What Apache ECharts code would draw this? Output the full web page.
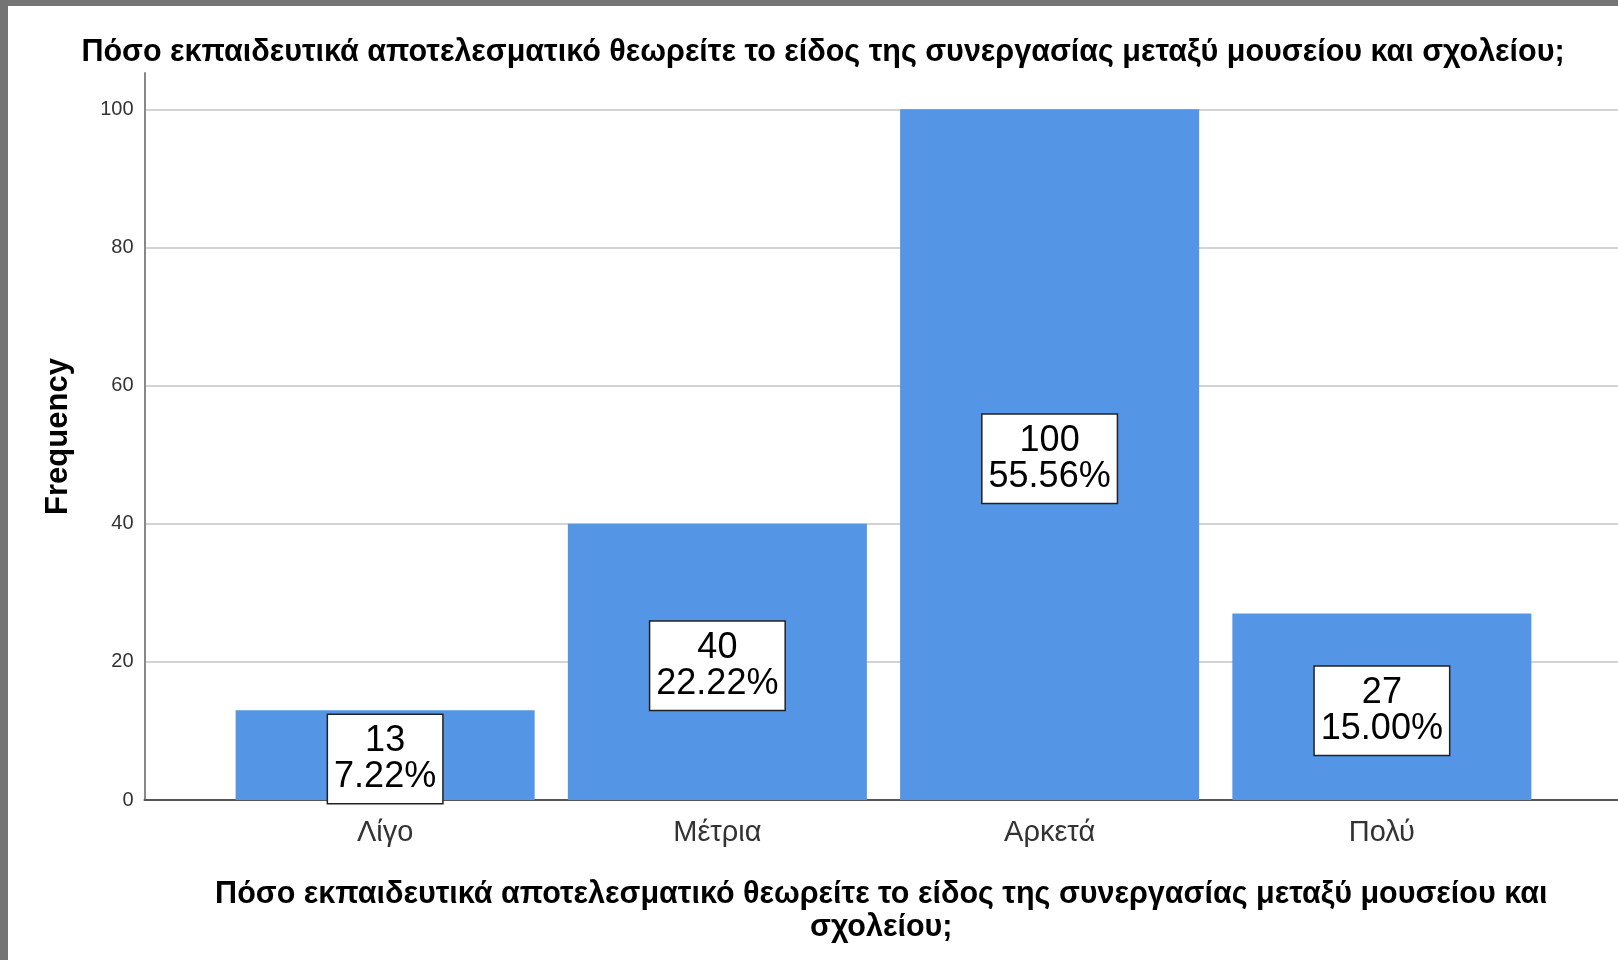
<!DOCTYPE html>
<html>
<head>
<meta charset="utf-8">
<script src="https://cdn.jsdelivr.net/npm/echarts@6/dist/echarts.min.js"></script>
<style>
    html, body { margin: 0; padding: 0; width: 1618px; height: 960px; background: #747474; overflow: hidden; }
    #chart { position: absolute; left: 8px; top: 6px; width: 1610px; height: 954px; background: #fff; }
</style>
</head>
<body>
<div id="chart"></div>
<script>
// data
const categories = ['Λίγο', 'Μέτρια', 'Αρκετά', 'Πολύ'];
const counts = [13, 40, 100, 27];
const percents = ['7.22%', '22.22%', '55.56%', '15.00%'];
const questionText = 'Πόσο εκπαιδευτικά αποτελεσματικό θεωρείτε το είδος της συνεργασίας μεταξύ μουσείου και σχολείου;';
const axisTitleLines = ['Πόσο εκπαιδευτικά αποτελεσματικό θεωρείτε το είδος της συνεργασίας μεταξύ μουσείου και', 'σχολείου;'];

const FONT = "'Liberation Sans', Arial, sans-serif";
const Y_MAX = 105.25;

const myChart = echarts.init(document.getElementById('chart'));

const option = {
    animation: false,
    textStyle: { fontFamily: FONT },
    title: {
        text: questionText,
        left: 810,
        top: 26,
        textAlign: 'center',
        textStyle: { fontFamily: FONT, fontSize: 30.5, fontWeight: 'bold', color: '#000' }
    },
    grid: [
        // background grid: full width gridlines and axes
        { left: 136.5, right: 0, top: 67, bottom: 160 },
        // bar grid: categories sit inside with padding like SPSS
        { left: 211, right: 70, top: 67, bottom: 160 }
    ],
    xAxis: [
        {
            gridIndex: 0,
            type: 'value',
            min: 0,
            max: 1,
            axisLine: { show: true, lineStyle: { color: '#555', width: 2 } },
            axisTick: { show: false },
            axisLabel: { show: false },
            splitLine: { show: false },
            name: axisTitleLines.join('\n'),
            nameLocation: 'middle',
            nameGap: 78,
            nameTextStyle: { fontFamily: FONT, fontSize: 30.5, fontWeight: 'bold', color: '#000', lineHeight: 33 }
        },
        {
            gridIndex: 1,
            type: 'category',
            data: categories,
            axisLine: { show: false },
            axisTick: { show: false },
            axisLabel: { fontSize: 29, color: '#333', margin: 18 }
        }
    ],
    yAxis: [
        {
            gridIndex: 0,
            type: 'value',
            min: 0,
            max: Y_MAX,
            interval: 20,
            axisLine: { show: true, lineStyle: { color: '#888', width: 2 } },
            axisTick: { show: false },
            axisLabel: { fontSize: 20, color: '#333', margin: 11, showMaxLabel: false },
            splitLine: { show: true, showMaxLine: false, lineStyle: { color: '#c4c4c4', width: 1.5 } },
            name: 'Frequency',
            nameLocation: 'middle',
            nameRotate: 90,
            nameGap: 71,
            nameTextStyle: { fontFamily: FONT, fontSize: 31, fontWeight: 'bold', color: '#000' }
        },
        {
            gridIndex: 1,
            type: 'value',
            min: 0,
            max: Y_MAX,
            show: false
        }
    ],
    series: [
        {
            type: 'bar',
            xAxisIndex: 1,
            yAxisIndex: 1,
            data: counts,
            barCategoryGap: '10%',
            itemStyle: { color: '#5595e5' },
            label: {
                show: true,
                position: 'inside',
                offset: [0, 4],
                formatter: (p) => p.value + '\n' + percents[p.dataIndex],
                fontFamily: FONT,
                fontSize: 36,
                lineHeight: 36,
                color: '#000',
                backgroundColor: '#fff',
                borderColor: '#222',
                borderWidth: 1.5,
                padding: [13, 6, 3, 6],
                align: 'center'
            }
        }
    ]
};

myChart.setOption(option, true);
</script>
</body>
</html>
